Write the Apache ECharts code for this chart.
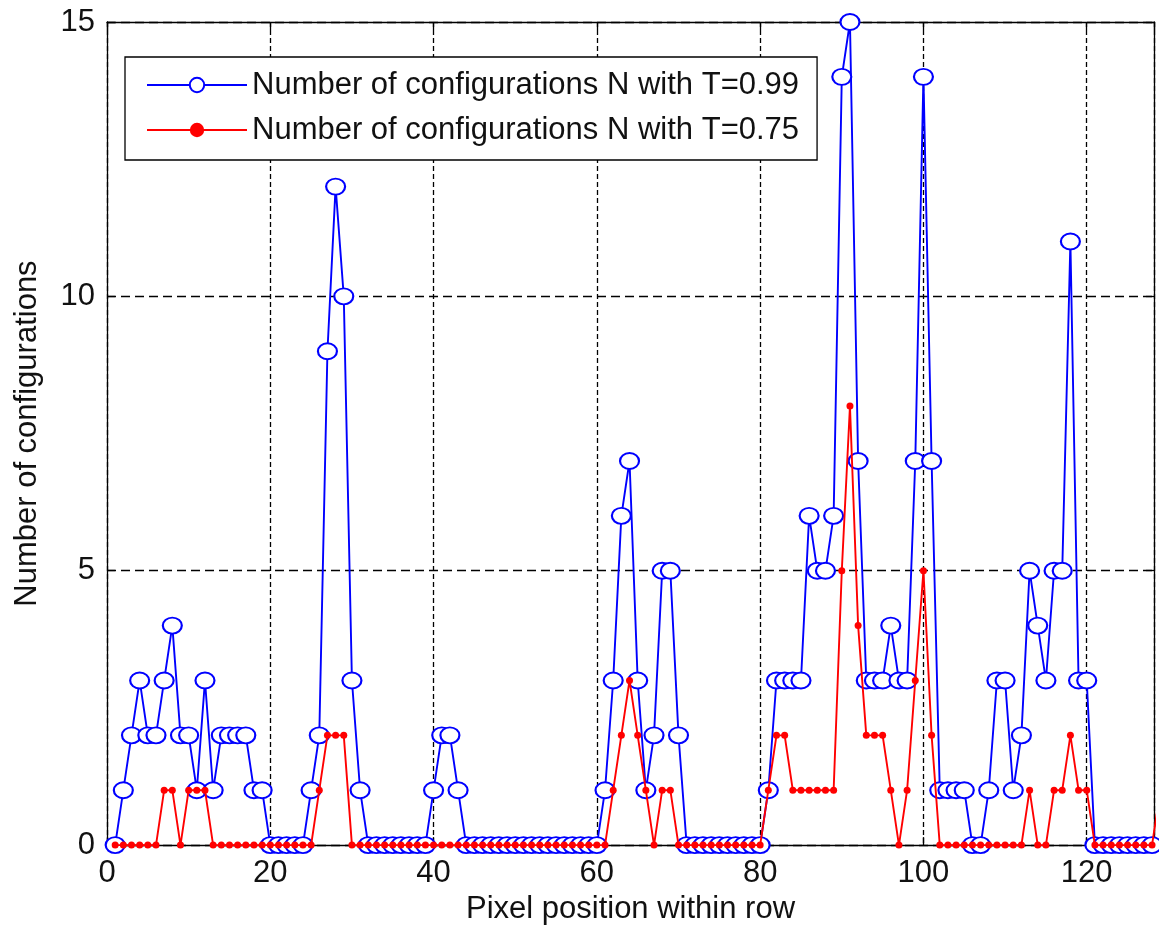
<!DOCTYPE html>
<html>
<head>
<meta charset="utf-8">
<script src="https://cdn.jsdelivr.net/npm/echarts@6/dist/echarts.min.js"></script>
<style>
  html, body { margin: 0; padding: 0; background: #fff; }
  #grafico { width: 1159px; height: 930px; }
</style>
</head>
<body>
<div id="grafico"></div>
<script>
// posiciones de pixel dentro de la fila (la ultima queda fuera del eje, recortada)
var pixelPos = [
  1, 2, 3, 4, 5, 6, 7, 8, 9, 10, 11, 12, 13, 14, 15, 16, 17, 18, 19, 20,
  21, 22, 23, 24, 25, 26, 27, 28, 29, 30, 31, 32, 33, 34, 35, 36, 37, 38, 39, 40,
  41, 42, 43, 44, 45, 46, 47, 48, 49, 50, 51, 52, 53, 54, 55, 56, 57, 58, 59, 60,
  61, 62, 63, 64, 65, 66, 67, 68, 69, 70, 71, 72, 73, 74, 75, 76, 77, 78, 79, 80,
  81, 82, 83, 84, 85, 86, 87, 88, 89, 90, 91, 92, 93, 94, 95, 96, 97, 98, 99, 100,
  101, 102, 103, 104, 105, 106, 107, 108, 109, 110, 111, 112, 113, 114, 115, 116, 117, 118, 119, 120,
  121, 122, 123, 124, 125, 126, 127, 128, 129
];

// N con T=0.99
var nT099 = [
  0, 1, 2, 3, 2, 2, 3, 4, 2, 2, 1, 3, 1, 2, 2, 2, 2, 1, 1, 0,
  0, 0, 0, 0, 1, 2, 9, 12, 10, 3, 1, 0, 0, 0, 0, 0, 0, 0, 0, 1,
  2, 2, 1, 0, 0, 0, 0, 0, 0, 0, 0, 0, 0, 0, 0, 0, 0, 0, 0, 0,
  1, 3, 6, 7, 3, 1, 2, 5, 5, 2, 0, 0, 0, 0, 0, 0, 0, 0, 0, 0,
  1, 3, 3, 3, 3, 6, 5, 5, 6, 14, 15, 7, 3, 3, 3, 4, 3, 3, 7, 14,
  7, 1, 1, 1, 1, 0, 0, 1, 3, 3, 1, 2, 5, 4, 3, 5, 5, 11, 3, 3,
  0, 0, 0, 0, 0, 0, 0, 0, 0
];

// N con T=0.75
var nT075 = [
  0, 0, 0, 0, 0, 0, 1, 1, 0, 1, 1, 1, 0, 0, 0, 0, 0, 0, 0, 0,
  0, 0, 0, 0, 0, 1, 2, 2, 2, 0, 0, 0, 0, 0, 0, 0, 0, 0, 0, 0,
  0, 0, 0, 0, 0, 0, 0, 0, 0, 0, 0, 0, 0, 0, 0, 0, 0, 0, 0, 0,
  0, 1, 2, 3, 2, 1, 0, 1, 1, 0, 0, 0, 0, 0, 0, 0, 0, 0, 0, 0,
  1, 2, 2, 1, 1, 1, 1, 1, 1, 5, 8, 4, 2, 2, 2, 1, 0, 1, 3, 5,
  2, 0, 0, 0, 0, 0, 0, 0, 0, 0, 0, 0, 1, 0, 0, 1, 1, 2, 1, 1,
  0, 0, 0, 0, 0, 0, 0, 0, 1
];

var xTicks = [0, 20, 40, 60, 80, 100, 120];
var yTicks = [0, 5, 10, 15];

var fuente = 'Liberation Sans, Arial, sans-serif';

function pares(valores) {
  return valores.map(function (v, i) { return [pixelPos[i], v]; });
}

var myChart = echarts.init(document.getElementById('grafico'), null, { renderer: 'canvas' });

var ejeNegro = { show: true, onZero: false, lineStyle: { color: '#000', width: 1.3 } };
var tickDentro = { show: true, inside: true, length: 8, lineStyle: { color: '#000', width: 1.3 } };

var option = {
  backgroundColor: '#fff',
  animation: false,
  textStyle: { fontFamily: fuente },
  grid: { left: 107, top: 22, width: 1047, height: 825, show: false },
  legend: {
    data: ['Number of configurations N with T=0.99', 'Number of configurations N with T=0.75'],
    orient: 'vertical',
    left: 125,
    top: 57,
    padding: [11, 18, 13, 21],
    itemGap: 11,
    itemWidth: 100,
    itemHeight: 18,
    backgroundColor: '#fff',
    borderColor: '#000',
    borderWidth: 1.3,
    borderRadius: 0,
    selectedMode: false,
    textStyle: { fontFamily: fuente, fontSize: 31, lineHeight: 34, color: '#111' }
  },
  xAxis: [{
    type: 'value',
    min: 0,
    max: 128.24,
    interval: 20,
    position: 'bottom',
    axisLine: ejeNegro,
    axisTick: tickDentro,
    axisLabel: {
      fontSize: 31, color: '#111', margin: 13, fontFamily: fuente,
      formatter: function (v) { return xTicks.indexOf(v) >= 0 ? String(v) : ''; }
    },
    splitLine: { show: true, lineStyle: { color: '#000', width: 1.3, type: [5, 3] } },
    name: 'Pixel position within row',
    nameLocation: 'middle',
    nameGap: 36,
    nameTextStyle: { fontSize: 31, color: '#111', fontFamily: fuente }
  }, {
    type: 'value',
    min: 0,
    max: 128.24,
    interval: 20,
    position: 'top',
    axisLine: ejeNegro,
    axisTick: tickDentro,
    axisLabel: { show: false },
    splitLine: { show: false }
  }],
  yAxis: [{
    type: 'value',
    min: 0,
    max: 15,
    interval: 5,
    position: 'left',
    axisLine: ejeNegro,
    axisTick: tickDentro,
    axisLabel: {
      fontSize: 31, color: '#111', margin: 12, fontFamily: fuente,
      formatter: function (v) { return yTicks.indexOf(v) >= 0 ? String(v) : ''; }
    },
    splitLine: { show: true, lineStyle: { color: '#000', width: 1.3, type: [9, 5] } },
    name: 'Number of configurations',
    nameLocation: 'middle',
    nameGap: 64,
    nameTextStyle: { fontSize: 31, color: '#111', fontFamily: fuente }
  }, {
    type: 'value',
    min: 0,
    max: 15,
    interval: 5,
    position: 'right',
    axisLine: ejeNegro,
    axisTick: tickDentro,
    axisLabel: { show: false },
    splitLine: { show: false }
  }],
  series: [{
    name: 'Number of configurations N with T=0.99',
    type: 'line',
    data: pares(nT099),
    clip: true,
    symbol: 'emptyCircle',
    symbolSize: [19, 16],
    showAllSymbol: true,
    lineStyle: { color: '#0000ff', width: 1.9 },
    itemStyle: { color: '#0000ff', borderColor: '#0000ff', borderWidth: 1.6 },
    emphasis: { disabled: true },
    z: 3
  }, {
    name: 'Number of configurations N with T=0.75',
    type: 'line',
    data: pares(nT075),
    clip: true,
    symbol: 'circle',
    symbolSize: 7,
    showAllSymbol: true,
    lineStyle: { color: '#ff0000', width: 1.9 },
    itemStyle: { color: '#ff0000', borderColor: '#ff0000', borderWidth: 0 },
    emphasis: { disabled: true },
    z: 4
  }]
};

myChart.setOption(option);
</script>
</body>
</html>
